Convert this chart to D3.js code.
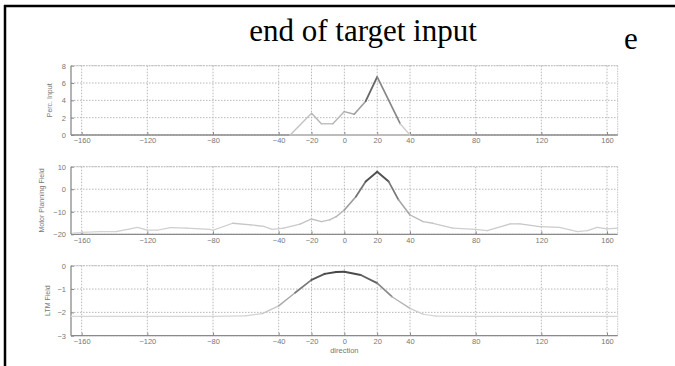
<!DOCTYPE html>
<html><head><meta charset="utf-8">
<script src="https://cdn.jsdelivr.net/npm/d3@7"></script>
<style>body{margin:0;background:#fff}svg{display:block}</style>
</head><body><svg id="c" width="675" height="366"></svg>
<script>
const title = "end of target input";
const sideLetter = "e";
const xTicks = [-160,-120,-80,-40,-20,0,20,40,80,120,160];
const xDomain = [-166.5,166.5];

const percX = [-33,-20,-14,-7,0,6,13,20,34,40];
const percY = [0,2.5,1.3,1.3,2.7,2.4,3.9,6.7,1.3,0];
const percTicks = [0,2,4,6,8];

const motorX = [-165.5,-160,-149,-139,-126,-120,-114,-106,-96,-82,-80,-68,-57,-49,-44,-37,-27,-20,-14,-9,-5,0,7,13,20,27,33,40,48,54,66,80,87,101,107,119,131,142,148,154,160,166.5];
const motorY = [-19.5,-19.1,-18.8,-18.8,-16.9,-18.1,-18.2,-17.0,-17.3,-17.8,-18.2,-15.1,-15.8,-16.5,-17.8,-17.3,-15.5,-13.2,-14.4,-13.6,-12.2,-9.2,-3.3,3.4,7.8,3.4,-4.7,-11.4,-14.4,-15.1,-17.3,-17.8,-18.4,-15.4,-15.4,-16.6,-16.9,-18.8,-18.4,-16.9,-17.6,-17.3];
const motorTicks = [-20,-10,0,10];

const ltmX = [-166.5,-120,-80,-60,-50,-40,-30,-20,-12,-5,0,10,20,29,40,48,56,80,120,166.5];
const ltmY = [-2.17,-2.17,-2.17,-2.15,-2.05,-1.72,-1.16,-0.61,-0.35,-0.27,-0.26,-0.40,-0.75,-1.33,-1.83,-2.08,-2.16,-2.17,-2.17,-2.17];
const ltmTicks = [-3,-2,-1,0];

const svg = d3.select("#c");
// frame
svg.append("line").attr("x1",4).attr("x2",675).attr("y1",6).attr("y2",6).attr("stroke","#000").attr("stroke-width",2.5);
svg.append("line").attr("x1",5).attr("x2",5).attr("y1",5).attr("y2",366).attr("stroke","#000").attr("stroke-width",2.5);
svg.append("text").attr("x",363).attr("y",41).attr("text-anchor","middle")
  .attr("font-family","Liberation Serif, Times New Roman, serif").attr("font-size",31).attr("fill","#000").text(title);
svg.append("text").attr("x",631).attr("y",49).attr("text-anchor","middle")
  .attr("font-family","Liberation Serif, Times New Roman, serif").attr("font-size",31).attr("fill","#000").text(sideLetter);

const x = d3.scaleLinear().domain(xDomain).range([71,617.7]);

const panels = [
  {xs:percX, ys:percY, ticks:percTicks, dom:[0,8], rng:[135,65.7], label:"Perc. Input", lx:52, closed:true},
  {xs:motorX, ys:motorY, ticks:motorTicks, dom:[-20,10], rng:[234.3,166.7], label:"Motor Planning Field", lx:44, closed:false},
  {xs:ltmX, ys:ltmY, ticks:ltmTicks, dom:[-3,0], rng:[335.7,265.7], label:"LTM Field", lx:50, closed:false, xlabel:"direction"}
];

const tickFont = "Liberation Sans, Arial, sans-serif";
panels.forEach(p => {
  const y = d3.scaleLinear().domain(p.dom).range(p.rng);
  const g = svg.append("g");
  const [x0,x1] = x.range();
  const [yb,yt] = p.rng;
  // grid
  g.selectAll(".gx").data(xTicks).join("line")
    .attr("x1",d=>x(d)).attr("x2",d=>x(d)).attr("y1",yt).attr("y2",yb)
    .attr("stroke","#b8b8b8").attr("stroke-width",1).attr("stroke-dasharray","1.5,1.5");
  g.selectAll(".gy").data(p.ticks).join("line")
    .attr("x1",x0).attr("x2",x1).attr("y1",d=>y(d)).attr("y2",d=>y(d))
    .attr("stroke","#b8b8b8").attr("stroke-width",1).attr("stroke-dasharray","1.5,1.5");
  // box top/right
  g.append("line").attr("x1",x0).attr("x2",x1).attr("y1",yt).attr("y2",yt).attr("stroke","#c4c4c4").attr("stroke-dasharray","1.5,1");
  g.append("line").attr("x1",x1).attr("x2",x1).attr("y1",yt).attr("y2",yb).attr("stroke","#c4c4c4").attr("stroke-dasharray","1.5,1");
  // axes
  const ax = g.append("g").attr("transform",`translate(0,${yb})`)
    .call(d3.axisBottom(x).tickValues(xTicks).tickSize(-3).tickPadding(3).tickFormat(d3.format("d")));
  const ay = g.append("g").attr("transform",`translate(${x0},0)`)
    .call(d3.axisLeft(y).tickValues(p.ticks).tickSize(-3).tickPadding(5).tickFormat(d3.format("d")));
  [ax,ay].forEach(a=>{
    a.select(".domain").attr("stroke","#8a8a8a").attr("stroke-width",1.3);
    a.selectAll(".tick line").attr("stroke","#8a8a8a");
    a.selectAll("text").attr("fill","#777").attr("font-size",7.5).attr("font-family",tickFont);
  });
  ax.select(".domain").attr("d",`M${x0},0H${x1}`);
  ay.select(".domain").attr("d",`M0,${yb}V${yt}`);
  // y label
  g.append("text").attr("transform",`translate(${p.lx},${(yb+yt)/2}) rotate(-90)`)
    .attr("text-anchor","middle").attr("font-size",7).attr("fill","#777").attr("font-family",tickFont).text(p.label);
  if (p.xlabel) g.append("text").attr("x",x(0)).attr("y",yb+17).attr("text-anchor","middle")
    .attr("font-size",7.5).attr("fill","#777").attr("font-family",tickFont).text(p.xlabel);
  // data line as segments shaded by height
  const pts = p.xs.map((v,i)=>[v,p.ys[i]]);
  const ymin = d3.min(p.ys), ymax = d3.max(p.ys);
  const shade = d3.scaleLinear().domain([ymin, ymin+(ymax-ymin)*0.35, ymax]).range(["#d6d6d6","#b0b0b0","#454545"]);
  const width = d3.scaleLinear().domain([ymin,ymax]).range([1.2,2.0]);
  const segs = d3.pairs(pts);
  if (p.closed) segs.unshift([pts[pts.length-1], pts[0]]);
  g.selectAll(".seg").data(segs).join("line")
    .attr("x1",d=>x(d[0][0])).attr("y1",d=>y(d[0][1]))
    .attr("x2",d=>x(d[1][0])).attr("y2",d=>y(d[1][1]))
    .attr("stroke",d=>shade((d[0][1]+d[1][1])/2))
    .attr("stroke-width",d=>width((d[0][1]+d[1][1])/2))
    .attr("stroke-linecap","round");
});
</script></body></html>
